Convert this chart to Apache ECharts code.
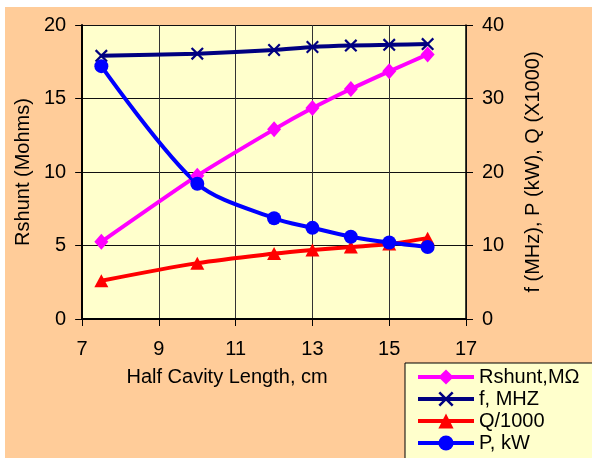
<!DOCTYPE html>
<html>
<head>
<meta charset="utf-8">
<script src="https://cdn.jsdelivr.net/npm/echarts@6/dist/echarts.min.js"></script>
<style>
  html, body { margin: 0; padding: 0; background: #ffffff; width: 592px; height: 458px; overflow: hidden; }
  #c { position: absolute; left: 5px; top: 7px; width: 587px; height: 451px; background: #FFCC99; }
</style>
</head>
<body>
<div id="c"></div>
<script>
// Data
const xValues = [7.5, 10, 12, 13, 14, 15, 16];
const rshunt = [5.25, 9.75, 12.9, 14.35, 15.65, 16.85, 18.0];   // left axis, Mohms
const freq = [35.8, 36.1, 36.6, 37.0, 37.2, 37.3, 37.4];        // right axis, MHz
const q1000 = [5.2, 7.6, 8.9, 9.4, 9.8, 10.2, 11.0];            // right axis, Q/1000
const power = [34.4, 18.4, 13.7, 12.4, 11.2, 10.4, 9.8];        // right axis, kW
const seriesNames = ['Rshunt,M\u03A9', 'f, MHZ', 'Q/1000', 'P, kW'];
const xTitle = 'Half Cavity Length, cm';
const leftTitle = 'Rshunt (Mohms)';
const rightTitle = 'f (MHz), P (kW), Q (X1000)';

const pairs = arr => xValues.map((x, i) => [x, arr[i]]);
const FONT = 'Liberation Sans, Arial, sans-serif';
const FS = 20;
const crossPath = 'path://M0,1.2 L1.2,0 L5,3.8 L8.8,0 L10,1.2 L6.2,5 L10,8.8 L8.8,10 L5,6.2 L1.2,10 L0,8.8 L3.8,5 Z';

const chart = echarts.init(document.getElementById('c'));
chart.setOption({
  animation: false,
  textStyle: { fontFamily: FONT },
  grid: {
    left: 75, top: 18, right: 126, bottom: 139,
    show: true, backgroundColor: '#FFFFCC', borderWidth: 0
  },
  xAxis: {
    type: 'value', min: 7, max: 17, interval: 2,
    name: xTitle, nameLocation: 'middle', nameGap: 48,
    nameTextStyle: { fontSize: FS, color: '#000', fontFamily: FONT, padding: [0, 94, 0, 0] },
    axisLine: { show: true, onZero: false, lineStyle: { color: '#000', width: 2 } },
    axisTick: { show: true, length: 7, lineStyle: { color: '#000', width: 1 } },
    axisLabel: { fontSize: FS, color: '#000', margin: 20, fontFamily: FONT },
    splitLine: { show: true, lineStyle: { color: '#333', width: 1 } }
  },
  yAxis: [
    {
      type: 'value', min: 0, max: 20, interval: 5, position: 'left',
      name: leftTitle, nameLocation: 'middle', nameGap: 45, nameRotate: 90,
      nameTextStyle: { fontSize: FS, color: '#000', fontFamily: FONT },
      axisLine: { show: true, lineStyle: { color: '#000', width: 2 } },
      axisTick: { show: true, length: 7, lineStyle: { color: '#000', width: 1 } },
      axisLabel: { fontSize: FS, color: '#000', margin: 16, fontFamily: FONT },
      splitLine: { show: true, lineStyle: { color: '#111', width: 1 } }
    },
    {
      type: 'value', min: 0, max: 40, interval: 10, position: 'right',
      name: rightTitle, nameLocation: 'middle', nameGap: 57, nameRotate: 90,
      nameTextStyle: { fontSize: FS, color: '#000', fontFamily: FONT },
      axisLine: { show: true, lineStyle: { color: '#000', width: 1.5 } },
      axisTick: { show: true, length: 7, lineStyle: { color: '#000', width: 1 } },
      axisLabel: { fontSize: FS, color: '#000', margin: 16, fontFamily: FONT },
      splitLine: { show: false }
    }
  ],
  legend: {
    orient: 'vertical', left: 400, top: 356, height: 200,
    padding: [4, 15, 20, 11], itemGap: 2, itemWidth: 56, itemHeight: 19,
    backgroundColor: '#FFFFCC', borderColor: '#000', borderWidth: 1,
    lineStyle: { width: 4 },
    textStyle: { fontSize: FS, color: '#000', fontFamily: FONT },
    data: seriesNames
  },
  series: [
    {
      name: seriesNames[0], type: 'line', yAxisIndex: 0, data: pairs(rshunt),
      symbol: 'diamond', symbolSize: [14, 16], smooth: 0.2,
      itemStyle: { color: '#FF00FF' }, lineStyle: { color: '#FF00FF', width: 4 }
    },
    {
      name: seriesNames[1], type: 'line', yAxisIndex: 1, data: pairs(freq),
      symbol: crossPath, symbolSize: 13, smooth: 0.2,
      itemStyle: { color: '#000080' }, lineStyle: { color: '#000080', width: 4 }
    },
    {
      name: seriesNames[2], type: 'line', yAxisIndex: 1, data: pairs(q1000),
      symbol: 'triangle', symbolSize: [14, 13], smooth: 0.3,
      itemStyle: { color: '#FF0000' }, lineStyle: { color: '#FF0000', width: 4 }
    },
    {
      name: seriesNames[3], type: 'line', yAxisIndex: 1, data: pairs(power),
      symbol: 'circle', symbolSize: 14, smooth: 0.3,
      itemStyle: { color: '#0000FF' }, lineStyle: { color: '#0000FF', width: 4 }
    }
  ]
});
</script>
</body>
</html>
